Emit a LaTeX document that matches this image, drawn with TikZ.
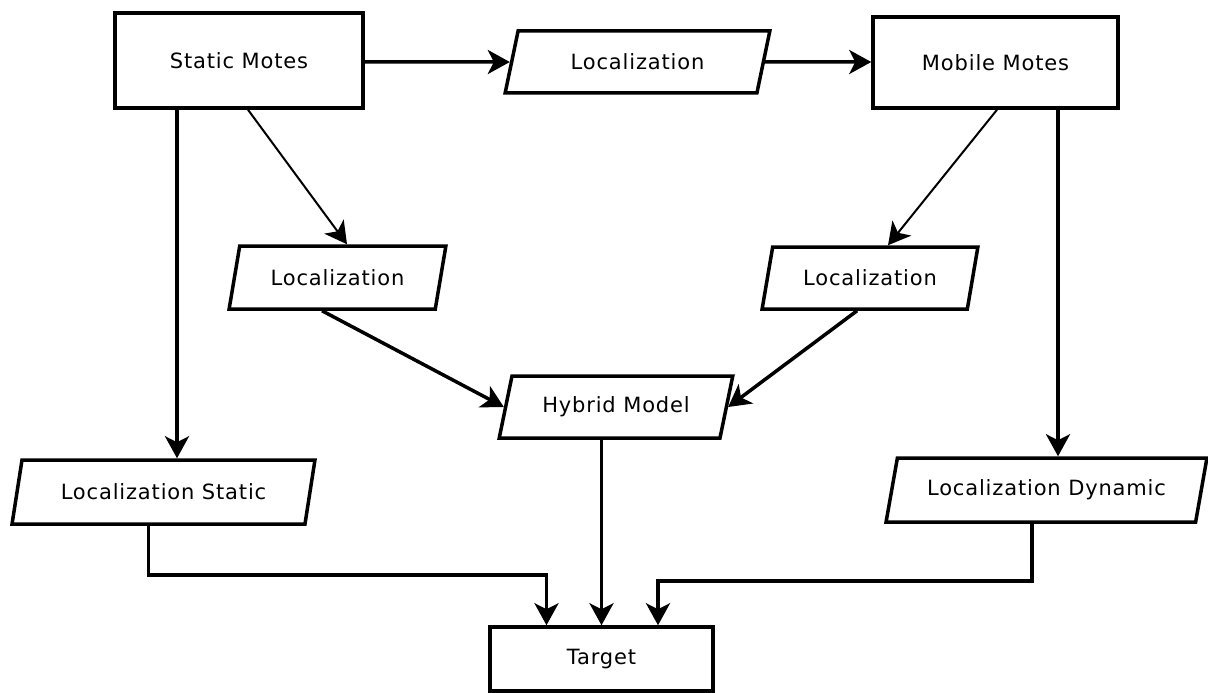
\documentclass[tikz,border=0pt]{standalone}
\usepackage{fontspec}
\setmainfont{DejaVu Sans}[LetterSpace=4]
\usetikzlibrary{shapes.geometric,arrows.meta}
\begin{document}
\begin{tikzpicture}[x=1pt,y=-1pt,
  lbl/.style={font=\fontsize{21}{25}\selectfont},
  box/.style={draw, line width=3.5pt, rectangle, inner sep=0pt, lbl},
  para/.style={draw, line width=3.5pt, trapezium, trapezium left angle=66, trapezium right angle=114, trapezium stretches=true, inner sep=0pt, lbl},
  thickarrow/.style={line width=3.5pt, -{Stealth[length=22pt,width=24pt,inset=6pt]}},
  thinarrow/.style={line width=2pt, -{Stealth[length=22pt,width=24pt,inset=6pt]}}]
\useasboundingbox (0,0) rectangle (1208,693);
\node[box, minimum width=248, minimum height=95] (sm) at (239,60.5) {Static Motes};
\node[box, minimum width=245, minimum height=91] (mm) at (995.5,62.5) {Mobile Motes};
\node[box, minimum width=223, minimum height=64] (tg) at (601.5,659) {Target};
\node[para, minimum width=265, minimum height=62] (l0) at (637.5,62) {Localization};
\node[para, minimum width=217, minimum height=63] (l1) at (337.5,277.5) {Localization};
\node[para, minimum width=216, minimum height=62] (l2) at (870,278) {Localization};
\node[para, minimum width=234, minimum height=62] (hy) at (616,407) {Hybrid Model};
\node[para, minimum width=303, minimum height=64] (ls) at (163.5,492) {Localization Static};
\node[para, minimum width=321, minimum height=64] (ld) at (1046.5,490) {Localization Dynamic};

\draw[thickarrow] (l0 -| sm.east) -- (l0.west);
\draw[thickarrow] (l0.east) -- (l0 -| mm.west);
\draw[thickarrow] ([xshift=-62]sm.south) -- ([xshift=-62]sm.south |- ls.north);
\draw[thinarrow] ([xshift=9]sm.south) -- ([xshift=9.5]l1.north);
\draw[thinarrow] ([xshift=1.5]mm.south) -- ([xshift=18]l2.north);
\draw[thickarrow] ([xshift=62.5]mm.south) -- ([xshift=62.5]mm.south |- ld.north);
\draw[thickarrow] ([xshift=-15.5]l1.south) -- (hy.west);
\draw[thickarrow] ([xshift=-13]l2.south) -- (hy.east);
\draw[thickarrow] (hy.south -| tg.north) -- (tg.north);
\draw[thickarrow] ([xshift=-15]ls.south) -- ++(0,49) -| ([xshift=-55]tg.north);
\draw[thickarrow] ([xshift=-14.5]ld.south) -- ++(0,57) -| ([xshift=56.5]tg.north);
\end{tikzpicture}
\end{document}
